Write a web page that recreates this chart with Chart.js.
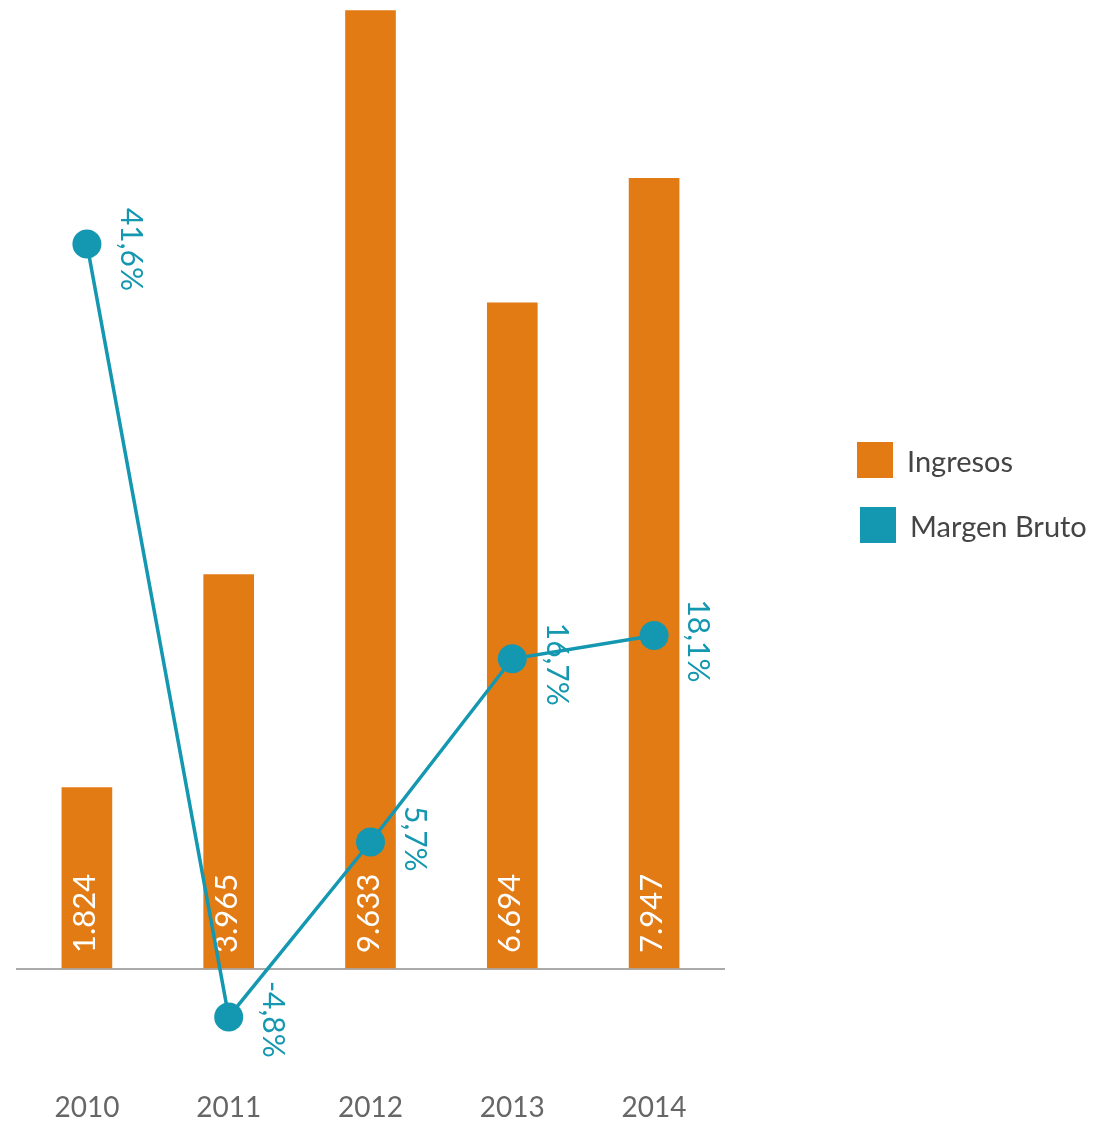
<!DOCTYPE html>
<html>
<head>
<meta charset="utf-8">
<script src="https://cdn.jsdelivr.net/npm/chart.js@4"></script>
<style>
  body { margin: 0; background: #fff; }
  #wrap { position: relative; width: 1112px; height: 1123px; }
  #legend { position: absolute; left: 857px; top: 442px; font-family: Lato, sans-serif; font-size: 29px; color: #444; }
  #legend .item { display: flex; align-items: center; height: 36px; margin-bottom: 29px; }
  #legend .item + .item { margin-left: 3px; }
  #legend .box { width: 36px; height: 36px; margin-right: 14px; }
</style>
</head>
<body>
<div id="wrap">
  <canvas id="chart"></canvas>
  <div id="legend"></div>
</div>
<script>
(function(Chart){

    var years = ['2010', '2011', '2012', '2013', '2014'];
    var ingresos = [1824, 3965, 9633, 6694, 7947];
    var margenBruto = [41.6, -4.8, 5.7, 16.7, 18.1];

    var orange = '#E27B14';
    var teal = '#1497B0';
    var font = 'Lato, sans-serif';

    function fmtMiles(v) {
        return String(v).replace(/\B(?=(\d{3})+(?!\d))/g, '.');
    }

    function fmtPct(v) {
        return v.toFixed(1).replace('.', ',') + '%';
    }

    // white values inside the bars, reading bottom to top
    var barLabels = {
        id: 'barLabels',
        afterDatasetDraw: function(chart, args) {
            if (args.index !== 0) return;
            var ctx = chart.ctx;
            ctx.save();
            ctx.fillStyle = '#fff';
            ctx.font = '31px ' + font;
            ctx.textAlign = 'left';
            ctx.textBaseline = 'middle';
            args.meta.data.forEach(function(bar, i) {
                ctx.save();
                ctx.translate(bar.x - 2, bar.base - 15);
                ctx.rotate(-Math.PI / 2);
                ctx.fillText(fmtMiles(ingresos[i]), 0, 0);
                ctx.restore();
            });
            ctx.restore();
        }
    };

    // percentage labels beside the line points, reading top to bottom
    var lineLabels = {
        id: 'lineLabels',
        afterDatasetsDraw: function(chart) {
            var meta = chart.getDatasetMeta(1);
            var ctx = chart.ctx;
            ctx.save();
            ctx.fillStyle = teal;
            ctx.font = '30px ' + font;
            ctx.textAlign = 'left';
            ctx.textBaseline = 'middle';
            meta.data.forEach(function(pt, i) {
                ctx.save();
                ctx.translate(pt.x + 44, pt.y - 36);
                ctx.rotate(Math.PI / 2);
                ctx.fillText(fmtPct(margenBruto[i]), 0, 0);
                ctx.restore();
            });
            ctx.restore();
        }
    };

    var ctx = document.getElementById('chart').getContext('2d');

    var chart = new Chart(ctx, {
        type: 'bar',
        data: {
            labels: years,
            datasets: [{
                label: 'Ingresos',
                data: ingresos,
                backgroundColor: orange,
                barThickness: 50,
                yAxisID: 'y',
                order: 1
            }, {
                type: 'line',
                label: 'Margen Bruto',
                data: margenBruto,
                borderColor: teal,
                backgroundColor: teal,
                borderWidth: 3.5,
                pointRadius: 14.5,
                pointBackgroundColor: teal,
                pointBorderWidth: 0,
                clip: false,
                yAxisID: 'y2',
                order: 0
            }]
        },
        options: {
            responsive: true,
            maintainAspectRatio: false,
            animation: false,
            events: [],
            layout: {
                autoPadding: false,
                padding: { left: 16, right: 387, top: 8, bottom: 0 }
            },
            plugins: {
                legend: { display: false },
                tooltip: { enabled: false }
            },
            scales: {
                x: {
                    offset: true,
                    grid: { display: false, drawTicks: false },
                    border: { display: false },
                    ticks: {
                        padding: -2,
                        color: '#666',
                        font: { family: font, size: 28 }
                    }
                },
                y: {
                    min: -1250,
                    max: 9658,
                    ticks: { display: false },
                    border: { display: false },
                    grid: { drawTicks: false, color: '#aaa', lineWidth: 2 },
                    afterBuildTicks: function(axis) {
                        axis.ticks = [{ value: 0 }];
                    }
                },
                y2: {
                    display: false,
                    position: 'right',
                    min: -9.39,
                    max: 55.76
                }
            }
        },
        plugins: [barLabels, lineLabels]
    });

    var $legend = document.getElementById('legend');
    chart.data.datasets.forEach(function(ds) {
        var item = '<div class="item"><div class="box" style="background:' + ds.backgroundColor + '"></div>' + ds.label + '</div>';
        $legend.insertAdjacentHTML('beforeend', item);
    });

})(Chart);
</script>
</body>
</html>
